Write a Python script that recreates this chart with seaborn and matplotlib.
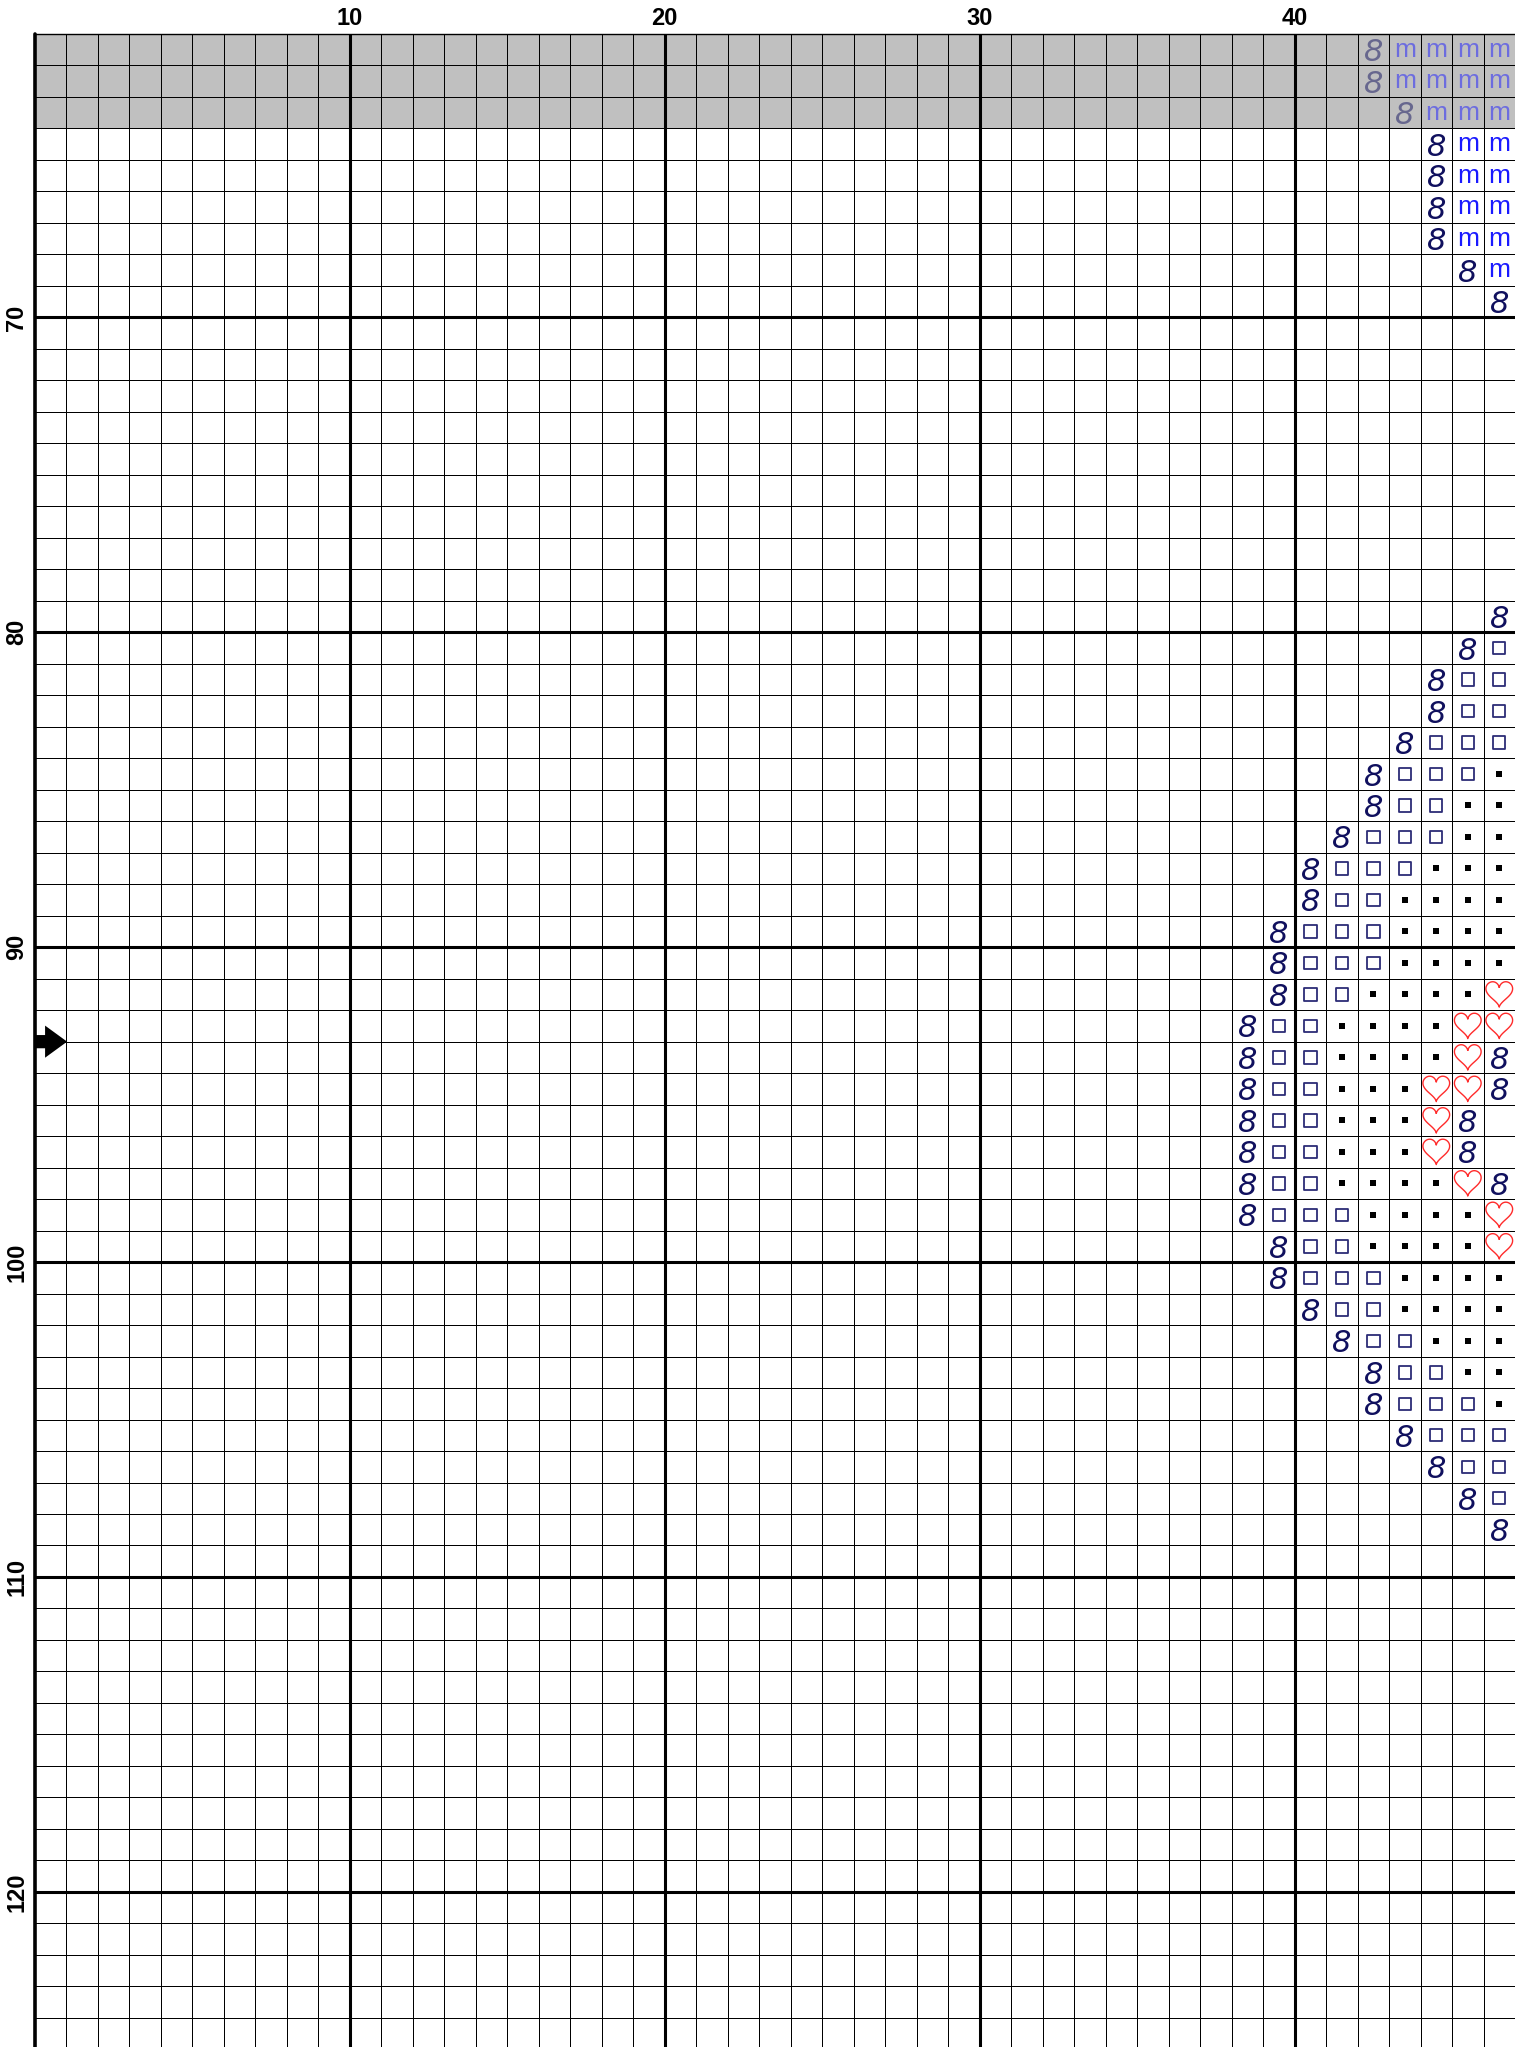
import numpy as np
import pandas as pd
import matplotlib
matplotlib.use('Agg')
import matplotlib.pyplot as plt
from matplotlib.colors import ListedColormap
from matplotlib.path import Path
import seaborn as sns

# Chart window: stitch columns 1-47 and rows 62-125
col_numbers = list(range(1, 48))
row_numbers = list(range(62, 126))
shaded_rows = [62, 63, 64]          # rows repeated from the previous page
col_tick_labels = [10, 20, 30, 40]
row_tick_labels = [70, 80, 90, 100, 110, 120]
center_row = 93.5                   # arrow sits on the line between rows 93 and 94

# Pattern for columns 39..47, one string per row starting at row 62
# 8 = dark "8" stitch, m = blue m, o = open square, . = small black square, h = heart
pattern_first_col = 39
pattern_first_row = 62
pattern = [
    "    8mmmm",  # 62
    "    8mmmm",  # 63
    "     8mmm",  # 64
    "      8mm",  # 65
    "      8mm",  # 66
    "      8mm",  # 67
    "      8mm",  # 68
    "       8m",  # 69
    "        8",  # 70
    "         ",  # 71
    "         ",  # 72
    "         ",  # 73
    "         ",  # 74
    "         ",  # 75
    "         ",  # 76
    "         ",  # 77
    "         ",  # 78
    "         ",  # 79
    "        8",  # 80
    "       8o",  # 81
    "      8oo",  # 82
    "      8oo",  # 83
    "     8ooo",  # 84
    "    8ooo.",  # 85
    "    8oo..",  # 86
    "   8ooo..",  # 87
    "  8ooo...",  # 88
    "  8oo....",  # 89
    " 8ooo....",  # 90
    " 8ooo....",  # 91
    " 8oo....h",  # 92
    "8oo....hh",  # 93
    "8oo....h8",  # 94
    "8oo...hh8",  # 95
    "8oo...h8 ",  # 96
    "8oo...h8 ",  # 97
    "8oo....h8",  # 98
    "8ooo....h",  # 99
    " 8oo....h",  # 100
    " 8ooo....",  # 101
    "  8oo....",  # 102
    "   8oo...",  # 103
    "    8oo..",  # 104
    "    8ooo.",  # 105
    "     8ooo",  # 106
    "      8oo",  # 107
    "       8o",  # 108
    "        8",  # 109
]

# turn the pattern into a table of stitches
recs = []
for i, line in enumerate(pattern):
    for j, ch in enumerate(line):
        if ch != ' ':
            recs.append({'row': pattern_first_row + i, 'col': pattern_first_col + j, 'sym': ch})
stitches = pd.DataFrame(recs)
stitches['x'] = stitches['col'] - col_numbers[0] + 0.5
stitches['y'] = stitches['row'] - row_numbers[0] + 0.5
stitches['faded'] = stitches['row'].isin(shaded_rows)

sns.set_theme(style='white')
plt.rcParams['font.family'] = ['Liberation Sans', 'DejaVu Sans']

W, H = 1515, 2047
left_px, top_px = 35, 34
cell = (W - left_px) / len(col_numbers)

fig = plt.figure(figsize=(W / 100, H / 100), dpi=100)
ax = fig.add_axes([left_px / W, 0, (W - left_px) / W, (H - top_px) / H])

# background cells (white / grey) with the thin grid
shade = np.array([[1 if r in shaded_rows else 0 for c in col_numbers] for r in row_numbers])
sns.heatmap(shade, ax=ax, cmap=ListedColormap(['white', '#c0c0c0']), vmin=0, vmax=1,
            cbar=False, linewidths=0.55, linecolor='black')

# heart marker shape
t = np.linspace(0, 2 * np.pi, 120)
hx = 16 * np.sin(t) ** 3
hy = (13 * np.cos(t) - 5 * np.cos(2 * t) - 2 * np.cos(3 * t) - np.cos(4 * t)) * 1.05
hy = hy - (hy.max() + hy.min()) / 2
heart = Path(np.column_stack([hx, hy]))

# open squares
for faded, grp in stitches[stitches.sym == 'o'].groupby('faded'):
    sns.scatterplot(data=grp, x='x', y='y', marker='s', s=80, facecolor='none',
                    edgecolor='#2c2c76', linewidth=1.3, alpha=0.5 if faded else 1,
                    legend=False, ax=ax, zorder=4)
# small black squares
sns.scatterplot(data=stitches[stitches.sym == '.'], x='x', y='y', marker='s', s=17,
                color='black', linewidth=0, legend=False, ax=ax, zorder=4)
# hearts
sns.scatterplot(data=stitches[stitches.sym == 'h'], x='x', y='y', marker=heart, s=370,
                facecolor='none', edgecolor='#ff2b2b', linewidth=1.0, legend=False,
                ax=ax, zorder=4)

# text symbols
for _, s in stitches[stitches.sym.isin(['8', 'm'])].iterrows():
    a = 0.5 if s.faded else 1.0
    if s.sym == '8':
        ax.text(s.x, s.y, '8', ha='center', va='center_baseline', fontsize=22,
                family='DejaVu Sans', style='italic', color='#10105e', alpha=a, zorder=4)
    else:
        ax.text(s.x, s.y, 'm', ha='center', va='center', fontsize=19,
                family='Liberation Sans', color='#1a1aff', alpha=a, zorder=4)

# heavy lines every 10 stitches, plus the outer border
for c in col_tick_labels:
    ax.axvline(c - col_numbers[0] + 1, color='black', lw=2.2, zorder=5)
for r in row_tick_labels:
    ax.axhline(r - row_numbers[0] + 1, color='black', lw=2.2, zorder=5)
ax.axvline(0, color='black', lw=2.6, zorder=5, clip_on=False)
ax.axhline(0, color='black', lw=1.0, zorder=5, clip_on=False)

# center arrow
ay = center_row - row_numbers[0] + 0.5
ax.arrow(0, ay, 1.02, 0, width=0.42, head_width=1.02, head_length=0.7,
         length_includes_head=True, color='black', lw=0, zorder=6, clip_on=False)

ax.set_xlim(0, len(col_numbers))
ax.set_ylim((H - top_px) / cell, 0)
for sp in ax.spines.values():
    sp.set_visible(False)

ax.xaxis.tick_top()
ax.set_xticks([c - col_numbers[0] + 1 for c in col_tick_labels])
ax.set_xticklabels([str(c) for c in col_tick_labels], fontsize=17, fontweight='bold',
                   color='black', rotation=0)
ax.set_yticks([r - row_numbers[0] + 1 for r in row_tick_labels])
ax.set_yticklabels([str(r) for r in row_tick_labels], fontsize=17, fontweight='bold',
                   color='black', rotation=90, va='center')
ax.tick_params(axis='x', length=0, pad=3, top=True, bottom=False, labeltop=True, labelbottom=False)
ax.tick_params(axis='y', length=0, pad=5)
ax.set_xlabel('')
ax.set_ylabel('')

fig.savefig('out.png', dpi=100)
